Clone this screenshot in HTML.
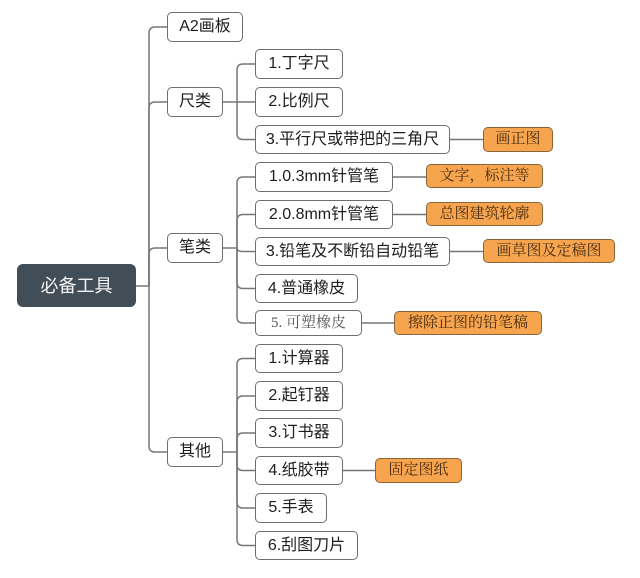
<!DOCTYPE html>
<html><head><meta charset="utf-8">
<style>
html,body{margin:0;padding:0;background:#fff;}
body{width:640px;height:578px;position:relative;overflow:hidden;font-family:"Liberation Sans","Noto Sans CJK SC",sans-serif;}
.b{position:absolute;box-sizing:border-box;border:1.5px solid #6e6e6e;border-radius:5px;background:#fff;display:flex;align-items:center;justify-content:center;font-size:16px;color:#1e1e1e;line-height:1;white-space:nowrap;}
.o{position:absolute;box-sizing:border-box;border:1.5px solid #8a6537;border-radius:5px;background:#f6a54e;display:flex;align-items:center;justify-content:center;font-size:15px;color:#4a2e14;line-height:1;white-space:nowrap;font-family:"Liberation Serif","Noto Serif CJK SC",serif;}
.root{position:absolute;box-sizing:border-box;border-radius:6px;background:#424e57;display:flex;align-items:center;justify-content:center;font-size:18px;color:#f4f4f4;line-height:1;}
svg{position:absolute;left:0;top:0;}
</style></head><body>
<svg width="640" height="578" viewBox="0 0 640 578" fill="none" stroke="#777" stroke-width="1.5">
<!-- root to trunk -->
<path d="M136,286 L149,286"/>
<!-- trunk to level1 -->
<path d="M149,286 L149,33 Q149,27 155,27 L167,27"/>
<path d="M149,286 L149,108 Q149,102 155,102 L167,102"/>
<path d="M149,286 L149,254 Q149,248 155,248 L167,248"/>
<path d="M149,286 L149,446 Q149,452 155,452 L167,452"/>
<!-- 尺类 group -->
<path d="M223,102 L255,102"/>
<path d="M237,102 L237,70 Q237,64 243,64 L255,64"/>
<path d="M237,102 L237,133.5 Q237,139.5 243,139.5 L255,139.5"/>
<!-- 笔类 group -->
<path d="M223,248 L237,248"/>
<path d="M237,248 L237,183 Q237,177 243,177 L255,177"/>
<path d="M237,248 L237,220.5 Q237,214.5 243,214.5 L255,214.5"/>
<path d="M237,248 Q237,251.5 243,251.5 L255,251.5"/>
<path d="M237,248 L237,282.5 Q237,288.5 243,288.5 L255,288.5"/>
<path d="M237,248 L237,317 Q237,323 243,323 L255,323"/>
<!-- 其他 group -->
<path d="M223,452 L237,452"/>
<path d="M237,452 L237,364.5 Q237,358.5 243,358.5 L255,358.5"/>
<path d="M237,452 L237,402 Q237,396 243,396 L255,396"/>
<path d="M237,452 L237,439 Q237,433 243,433 L255,433"/>
<path d="M237,452 L237,464.5 Q237,470.5 243,470.5 L255,470.5"/>
<path d="M237,452 L237,502 Q237,508 243,508 L255,508"/>
<path d="M237,452 L237,539.5 Q237,545.5 243,545.5 L255,545.5"/>
<!-- notes -->
<path d="M450,139.5 L483,139.5"/>
<path d="M393,177 L426,177"/>
<path d="M393,214.5 L426,214.5"/>
<path d="M450,251.5 L483,251.5"/>
<path d="M362,323 L394,323"/>
<path d="M343,470.5 L375,470.5"/>
</svg>

<div class="root" style="left:17px;top:264px;width:119px;height:43px;">必备工具</div>

<div class="b" style="left:167px;top:12px;width:76px;height:30px;">A2画板</div>
<div class="b" style="left:167px;top:87px;width:56px;height:30px;">尺类</div>
<div class="b" style="left:167px;top:233px;width:56px;height:30px;">笔类</div>
<div class="b" style="left:167px;top:437px;width:56px;height:30px;">其他</div>

<div class="b" style="left:255px;top:49px;width:88px;height:30px;">1.丁字尺</div>
<div class="b" style="left:255px;top:87px;width:88px;height:30px;">2.比例尺</div>
<div class="b" style="left:255px;top:125px;width:195px;height:29px;">3.平行尺或带把的三角尺</div>

<div class="b" style="left:255px;top:162px;width:138px;height:30px;">1.0.3mm针管笔</div>
<div class="b" style="left:255px;top:200px;width:138px;height:29px;">2.0.8mm针管笔</div>
<div class="b" style="left:255px;top:237px;width:195px;height:29px;">3.铅笔及不断铅自动铅笔</div>
<div class="b" style="left:255px;top:274px;width:103px;height:29px;">4.普通橡皮</div>
<div class="b" style="left:255px;top:310px;width:107px;height:26px;font-family:'Liberation Serif','Noto Serif CJK SC',serif;font-size:15px;color:#555;">5. 可塑橡皮</div>

<div class="b" style="left:255px;top:344px;width:88px;height:29px;">1.计算器</div>
<div class="b" style="left:255px;top:381px;width:88px;height:30px;">2.起钉器</div>
<div class="b" style="left:255px;top:418px;width:88px;height:30px;">3.订书器</div>
<div class="b" style="left:255px;top:456px;width:88px;height:29px;">4.纸胶带</div>
<div class="b" style="left:255px;top:493px;width:72px;height:30px;">5.手表</div>
<div class="b" style="left:255px;top:531px;width:103px;height:29px;">6.刮图刀片</div>

<div class="o" style="left:483px;top:127px;width:70px;height:25px;">画正图</div>
<div class="o" style="left:426px;top:164px;width:117px;height:24px;">文字，标注等</div>
<div class="o" style="left:426px;top:202px;width:117px;height:24px;">总图建筑轮廓</div>
<div class="o" style="left:483px;top:239px;width:132px;height:24px;">画草图及定稿图</div>
<div class="o" style="left:394px;top:311px;width:148px;height:24px;">擦除正图的铅笔稿</div>
<div class="o" style="left:375px;top:458px;width:87px;height:25px;">固定图纸</div>
</body></html>
